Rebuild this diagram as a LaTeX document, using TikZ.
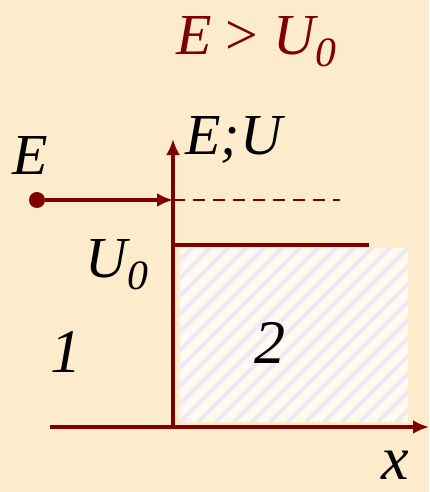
\documentclass[tikz,border=0pt]{standalone}
\usepackage{fontspec}
\setmainfont{Liberation Serif}
\usepackage{tikz}
\usetikzlibrary{arrows.meta, positioning, calc}
\definecolor{bgcream}{RGB}{253, 236, 204}
\definecolor{wallred}{RGB}{128, 0, 0}
\definecolor{hatchbg}{RGB}{255, 249, 240}
\definecolor{hatchline}{RGB}{236, 232, 246}
\newcommand{\lowsub}[1]{\raisebox{-0.45ex}{\fontsize{0.72em}{1em}\selectfont #1}}

\begin{document}
\begin{tikzpicture}[
  x=0.5pt, y=-0.5pt,
  axis/.style={draw=wallred, line width=1.7pt, -{Latex[length=8pt, width=7pt]}},
  lbl/.style={inner sep=0pt, font=\fontsize{29}{32}\selectfont\itshape},
  biglbl/.style={inner sep=0pt, font=\fontsize{31}{34}\selectfont\itshape}
]
  \fill[bgcream] (0,0) rectangle (429,492);
  \useasboundingbox (0,0) rectangle (429,492);

  % region 2 with stripes
  \fill[hatchbg] (180,248) rectangle (408,422);
  \begin{scope}
    \clip (180,248) rectangle (408,422);
    \foreach \s in {0,18,...,420}
      \draw[hatchline, line width=2pt] (180+\s-180,422) -- (180+\s,242);
  \end{scope}

  % axes
  \coordinate (origin) at (173,427);
  \coordinate (xend) at (429,427);
  \coordinate (xstart) at (50,427);
  \coordinate (ytop) at (173,139);
  \draw[axis] (xstart) -- (xend);
  \draw[axis] (origin) -- (ytop);

  % barrier
  \coordinate (barL) at (173,245);
  \coordinate (barR) at (369,245);
  \draw[wallred, line width=2pt] (barL) -- (barR);

  % incoming particle
  \node[circle, fill=wallred, inner sep=0pt, minimum size=8pt] (src) at (37,200) {};
  \coordinate (hit) at (173,200);
  \coordinate (dashend) at (340,200);
  \draw[axis] (src) -- (hit);
  \draw[wallred, line width=0.9pt, dash pattern=on 6pt off 4pt] (hit) -- (dashend);

  % labels
  \node[lbl, text=wallred] (cond) at (256,42) {E {\upshape >} U\lowsub{0}};
  \node[lbl] (elbl) at (30,156) {E};
  \node[lbl, anchor=west] (ylbl) at (185,140) {E;U};
  \node[lbl] (ulbl) at (117,265) {U\lowsub{0}};
  \node[biglbl] (reg1) at (66,352) {1};
  \node[biglbl] (reg2) at (270,343) {2};
  \node[biglbl] (xlbl) at (395,465) {x};
\end{tikzpicture}
\end{document}
